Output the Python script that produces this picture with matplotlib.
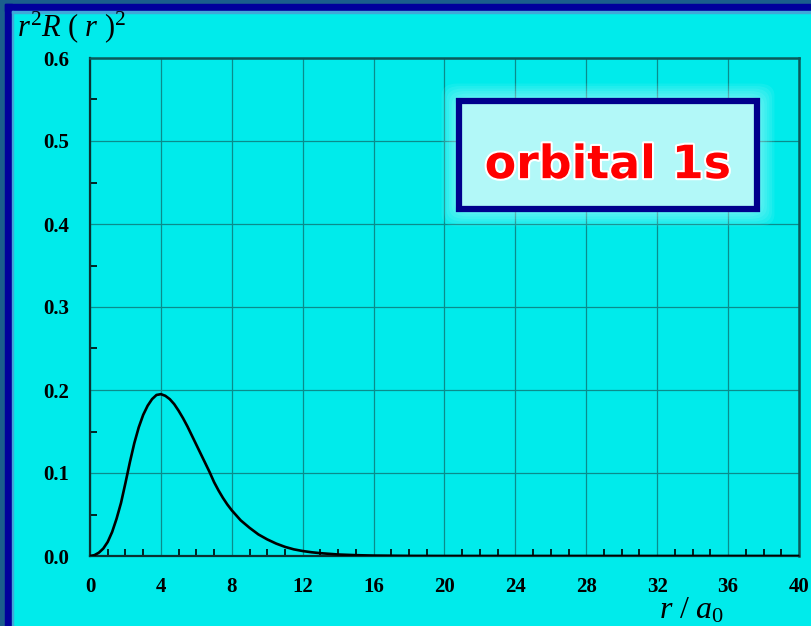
import matplotlib
matplotlib.use('Agg')
import matplotlib.pyplot as plt
import matplotlib.patheffects as pe
from matplotlib.patches import Rectangle, FancyBboxPatch
from matplotlib.ticker import MultipleLocator

plt.rcParams['mathtext.fontset'] = 'custom'
plt.rcParams['mathtext.rm'] = 'Liberation Serif'
plt.rcParams['mathtext.it'] = 'Liberation Serif:italic'

# radial probability density of the 1s orbital
r_over_a0 = [0, 0.25, 0.5, 0.75, 1.0, 1.25, 1.5, 1.75, 2.0, 2.25, 2.5, 2.75,
             3.0, 3.25, 3.5, 3.75, 4.0, 4.25, 4.5, 4.75, 5.0, 5.25, 5.5, 5.75,
             6.0, 6.25, 6.5, 6.75, 7.0, 7.25, 7.5, 7.75, 8.0, 8.5, 9.0, 9.5,
             10.0, 10.5, 11.0, 11.5, 12.0, 12.5, 13.0, 14.0, 15.0, 16.0, 18.0,
             20.0, 40.0]
density = [0, 0.001, 0.004, 0.009, 0.017, 0.029, 0.045, 0.064, 0.088, 0.113,
           0.136, 0.155, 0.170, 0.181, 0.189, 0.194, 0.195, 0.193, 0.189,
           0.183, 0.175, 0.166, 0.156, 0.145, 0.134, 0.123, 0.112, 0.101,
           0.089, 0.079, 0.070, 0.062, 0.055, 0.043, 0.034, 0.026, 0.020,
           0.015, 0.011, 0.008, 0.006, 0.0045, 0.0034, 0.0018, 0.001, 0.0005,
           0.0001, 0, 0]

cyan = '#00ebeb'
grid_col = '#0a8c8c'

fig = plt.figure(figsize=(8.12, 6.26), dpi=100, facecolor=cyan)

# slide frame: steel blue outside, dark blue inside (left and top edges)
W, H = 812, 626
def px_rect(x, y, w, h, color):
    fig.patches.append(Rectangle((x / W, 1 - (y + h) / H), w / W, h / H,
                                 transform=fig.transFigure, color=color,
                                 zorder=0))
px_rect(0, 0, 5, H, '#1b5e8c')
px_rect(0, 0, W, 4, '#1b5e8c')
px_rect(5, 4, 7, H, '#00009c')
px_rect(5, 4, W, 7, '#00009c')
px_rect(12, 11, 1.5, H, '#40a8d8')
px_rect(12, 11, W, 1.5, '#40a8d8')

ax = fig.add_axes([90 / W, 1 - 556 / H, (799 - 90) / W, (556 - 58) / H])
ax.set_facecolor(cyan)
ax.plot(r_over_a0, density, color='black', lw=1.9, zorder=3,
        solid_joinstyle='round')

ax.set_xlim(0, 40)
ax.set_ylim(0, 0.6)
ax.xaxis.set_major_locator(MultipleLocator(4))
ax.xaxis.set_minor_locator(MultipleLocator(1))
ax.yaxis.set_major_locator(MultipleLocator(0.1))
ax.yaxis.set_minor_locator(MultipleLocator(0.05))
ax.yaxis.set_major_formatter(plt.FormatStrFormatter('%.1f'))
ax.grid(True, which='major', color=grid_col, lw=0.9)
ax.set_axisbelow(True)

ax.tick_params(which='both', direction='in', color='black', width=1.2,
               top=False, right=False)
ax.tick_params(which='major', length=0, pad=15)
ax.tick_params(which='minor', length=5)
for lab in ax.get_xticklabels() + ax.get_yticklabels():
    lab.set_fontfamily('Liberation Serif')
    lab.set_fontweight('bold')
    lab.set_fontsize(15)

for side in ('left', 'bottom'):
    ax.spines[side].set_color('#0a3030')
    ax.spines[side].set_linewidth(1.6)
for side in ('top', 'right'):
    ax.spines[side].set_color('#0a5a5a')
    ax.spines[side].set_linewidth(1.8)

fig.text(17 / W, 1 - 27 / H, r'$r^2R\ (\ r\ )^2$', fontsize=22,
         ha='left', va='center')
fig.text(692 / W, 1 - 610 / H, r'$r\ /\ a_{\rm 0}$', fontsize=23,
         ha='center', va='center')

# label box with soft white glow
bx, by, bw, bh = 459 / W, 1 - 209 / H, 298 / W, 108 / H
for k in range(7, 0, -1):
    g = k * 2.5
    fig.patches.append(FancyBboxPatch(
        (bx - g / W, by - g / H), bw + 2 * g / W, bh + 2 * g / H,
        boxstyle='round,pad=0,rounding_size=0.02', transform=fig.transFigure,
        facecolor='white', edgecolor='none', alpha=0.07, zorder=4))
fig.patches.append(Rectangle((bx, by), bw, bh, transform=fig.transFigure,
                             facecolor='#b2f8f8', edgecolor='#00008c',
                             lw=4.5, zorder=5))
fig.text(bx + bw / 2, by + bh / 2 - 0.017, 'orbital 1s', fontsize=33,
         fontfamily='DejaVu Sans', fontweight='bold', color='#ff0000',
         ha='center', va='center', zorder=6,
         path_effects=[pe.withStroke(linewidth=3, foreground='white')])

fig.savefig('out.png', dpi=100, facecolor=fig.get_facecolor())
